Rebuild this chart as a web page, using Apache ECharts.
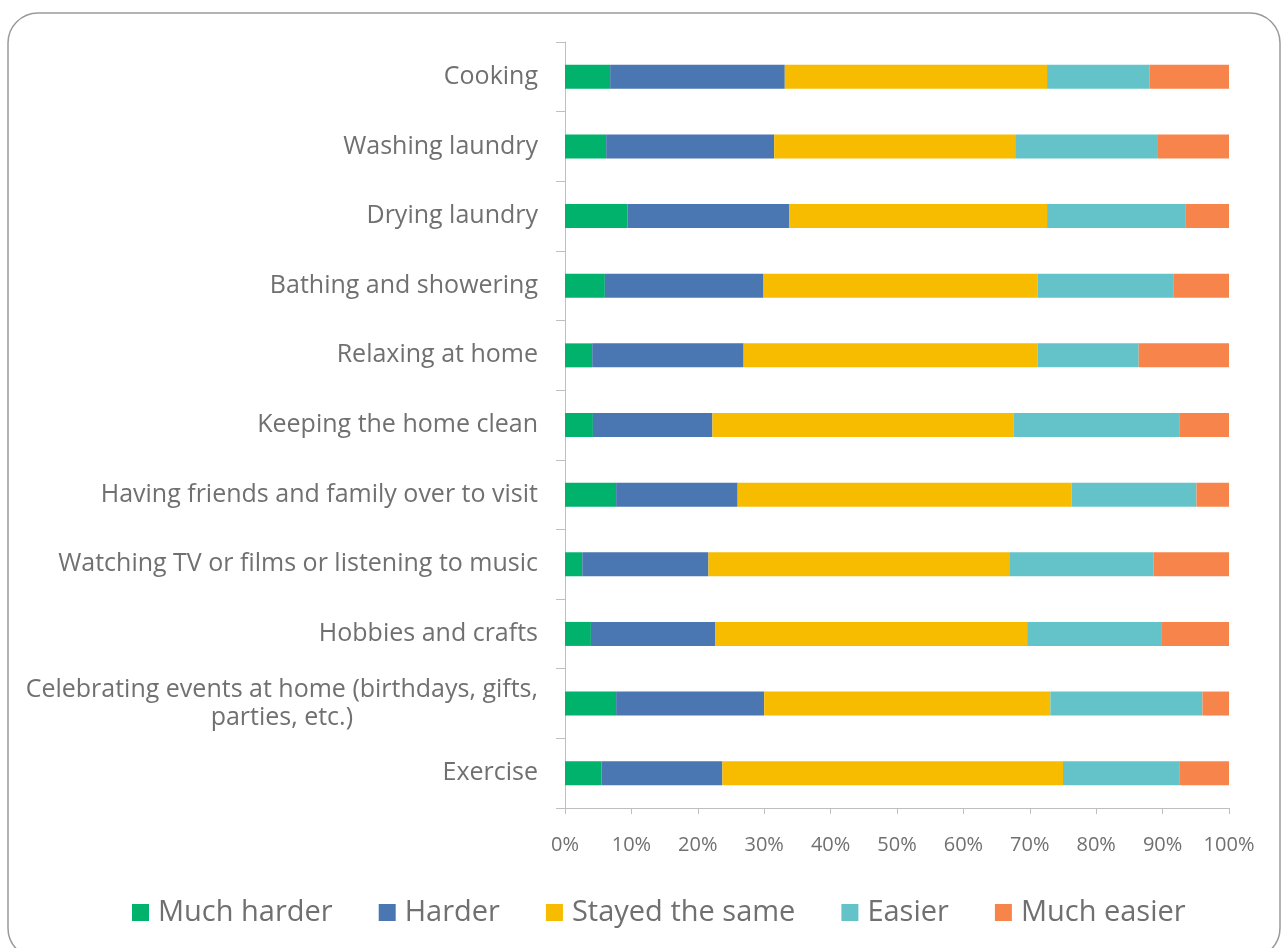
<!DOCTYPE html>
<html><head><meta charset="utf-8">
<script src="https://cdn.jsdelivr.net/npm/echarts@6/dist/echarts.min.js"></script>
<style>html,body{margin:0;padding:0;background:#fff}#c{width:1288px;height:948px}</style>
</head><body><div id="c"></div>
<script>
const categories = [
  "Cooking","Washing laundry","Drying laundry","Bathing and showering","Relaxing at home",
  "Keeping the home clean","Having friends and family over to visit",
  "Watching TV or films or listening to music","Hobbies and crafts",
  "Celebrating events at home (birthdays, gifts,\nparties, etc.)","Exercise"
];
const seriesNames = ["Much harder","Harder","Stayed the same","Easier","Much easier"];
const muchHarder = [6.8, 6.2, 9.4, 6.0, 4.1, 4.2, 7.7, 2.6, 3.9, 7.7, 5.5];
const harder     = [26.3, 25.3, 24.4, 23.9, 22.8, 18.0, 18.3, 19.0, 18.7, 22.3, 18.2];
const same       = [39.5, 36.3, 38.8, 41.3, 44.3, 45.4, 50.3, 45.3, 47.0, 43.1, 51.3];
const easier     = [15.4, 21.5, 20.9, 20.4, 15.2, 25.0, 18.8, 21.7, 20.3, 22.9, 17.6];
const muchEasier = [12.0, 10.7, 6.5, 8.4, 13.6, 7.4, 4.9, 11.4, 10.1, 4.0, 7.4];
const xTicks = ["0%","10%","20%","30%","40%","50%","60%","70%","80%","90%","100%"];
const colors = ["#00B26B","#4A76B1","#F7BC00","#63C3C8","#F7854B"];

const FONT = "Open Sans";
const LABEL_SIZE = 25;
const values = [muchHarder, harder, same, easier, muchEasier];
const ctx = document.createElement('canvas').getContext('2d');
ctx.font = LABEL_SIZE + "px '" + FONT + "'";
const longest = Math.max(...categories.flatMap(c => c.split('\n')).map(s => ctx.measureText(s).width));

const chart = echarts.init(document.getElementById('c'));
chart.setOption({
  backgroundColor: '#fff',
  animation: false,
  color: colors,
  graphic: [{
    type: 'rect', silent: true, z: -1,
    shape: { x: 8, y: 13, width: 1272, height: 945, r: 30 },
    style: { fill: 'none', stroke: '#9a9a9a', lineWidth: 1.5 }
  }],
  grid: { left: 565, right: 59, top: 42, bottom: 140 },
  legend: {
    data: seriesNames,
    top: 893, left: 127,
    itemWidth: 17, itemHeight: 17, itemGap: 46,
    icon: 'rect',
    textStyle: { fontFamily: FONT, fontSize: 29, color: '#707070', padding: [0, 0, 0, 4] }
  },
  xAxis: {
    type: 'value', min: 0, max: 100, interval: 10,
    axisLine: { show: true, lineStyle: { color: '#bfbfbf', width: 1 } },
    axisTick: { show: true, length: 6, lineStyle: { color: '#bfbfbf' } },
    splitLine: { show: false },
    axisLabel: {
      fontFamily: FONT, fontSize: 20, color: '#707070', margin: 27,
      formatter: (v) => xTicks[Math.round(v / 10)]
    }
  },
  yAxis: {
    type: 'category', data: categories, inverse: true,
    axisLine: { show: true, lineStyle: { color: '#bfbfbf', width: 1 } },
    axisTick: { show: true, length: 9, lineStyle: { color: '#bfbfbf' } },
    axisLabel: {
      fontFamily: FONT, fontSize: LABEL_SIZE, color: '#707070', margin: 27,
      formatter: (v) => v.indexOf('\n') >= 0 ? v.split('\n').map(s => '{c|' + s + '}').join('\n') : v,
      rich: { c: { width: longest, align: 'center', fontFamily: FONT, fontSize: LABEL_SIZE, color: '#707070', lineHeight: 28 } }
    }
  },
  series: seriesNames.map((n, i) => ({
    name: n, type: 'bar', stack: 'all', barWidth: 24,
    data: values[i], itemStyle: { color: colors[i] }
  }))
});
</script></body></html>
